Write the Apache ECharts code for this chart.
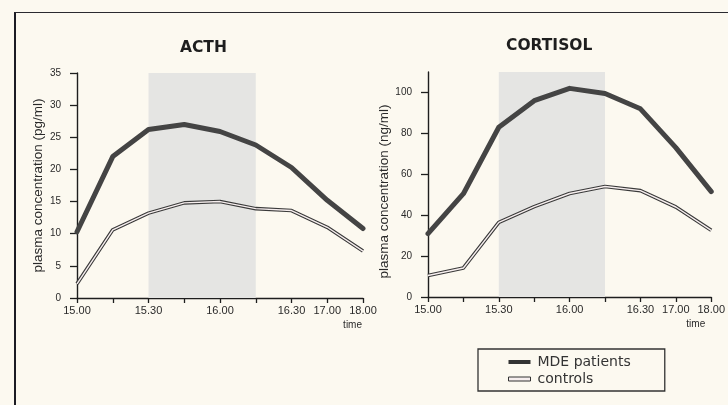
<!DOCTYPE html>
<html>
<head>
<meta charset="utf-8">
<script src="https://cdn.jsdelivr.net/npm/echarts@6/dist/echarts.min.js"></script>
<style>
  html, body { margin:0; padding:0; background:#fcf9f0; }
  #wrap { position:relative; width:728px; height:405px; overflow:hidden; }
  #chart { position:absolute; left:0; top:0; width:728px; height:405px; }
  #frame { position:absolute; left:14px; top:12px; width:720px; height:400px;
           border-left:2px solid #1c1c24; border-top:1.5px solid #2a2a30; pointer-events:none; }
</style>
</head>
<body>
<div id="wrap"><div id="chart"></div><div id="frame"></div></div>
<script>
// ---- data ----
const categories = ['15.00','15.15','15.30','15.45','16.00','16.15','16.30','17.00','18.00'];
const shownLabels = ['15.00','15.30','16.00','16.30','17.00','18.00'];
const shadeRange = ['15.30','16.15'];
const acthMDE = [10.3, 22.0, 26.2, 27.0, 25.9, 23.8, 20.3, 15.2, 10.8];
const acthControls = [2.2, 10.6, 13.2, 14.8, 15.0, 13.9, 13.6, 11.0, 7.3];
const cortisolMDE = [31, 50.5, 83, 96, 102, 99.5, 92, 73, 51.5];
const cortisolControls = [10.5, 14.2, 36.5, 44.2, 50.6, 54, 52, 44, 32.6];
const titles = ['ACTH', 'CORTISOL'];
const yNames = ['plasma concentration (pg/ml)', 'plasma concentration (ng/ml)'];
const seriesNames = ['MDE patients', 'controls'];

const ink = '#2a2a2a';
const axisCommon = {
  axisLine: { show: true, lineStyle: { color: '#1e1e1e', width: 1.4 } },
  splitLine: { show: false }
};

function xAxisFor(gridIndex, rightPad) {
  return Object.assign({}, axisCommon, {
    type: 'category', gridIndex, data: categories, boundaryGap: false,
    axisTick: { show: true, interval: 0, length: 5, lineStyle: { color: '#1e1e1e', width: 1.3 } },
    axisLabel: {
      interval: (i, v) => shownLabels.indexOf(v) >= 0,
      color: ink, fontFamily: 'Liberation Sans', fontSize: 11, margin: 7
    },
    name: 'time', nameLocation: 'end', nameGap: 0,
    nameTextStyle: { color: ink, fontFamily: 'Liberation Sans', fontSize: 10,
      align: 'right', verticalAlign: 'top', padding: [22, rightPad, 0, 0] }
  });
}
function yAxisFor(gridIndex, max, interval, name, gap, namePad) {
  return Object.assign({}, axisCommon, {
    type: 'value', gridIndex, min: 0, max, interval,
    axisTick: { show: true, length: 7, lineStyle: { color: '#1e1e1e', width: 1.3 } },
    axisLabel: { color: ink, fontFamily: 'Liberation Sans', fontSize: 10, margin: 16, showMaxLabel: max % interval === 0 },
    name, nameLocation: 'middle', nameGap: gap,
    nameTextStyle: { color: ink, fontFamily: 'Liberation Sans', fontSize: 13.5, padding: namePad }
  });
}

function mdeSeries(idx, data, withShade) {
  const s = {
    name: seriesNames[0], type: 'line', xAxisIndex: idx, yAxisIndex: idx, data,
    symbol: 'none', z: 5,
    lineStyle: { color: '#444', width: 5, join: 'round', cap: 'round' }
  };
  if (withShade) {
    s.markArea = { silent: true, itemStyle: { color: '#e5e5e3' },
      data: [[{ xAxis: shadeRange[0] }, { xAxis: shadeRange[1] }]] };
  }
  return s;
}
function ctrlOuter(idx, data) {
  return { name: seriesNames[1], type: 'line', xAxisIndex: idx, yAxisIndex: idx, data,
    symbol: 'none', z: 3, lineStyle: { color: '#3a3a3a', width: 3.6, join: 'round' } };
}
function ctrlInner(idx, data) {
  return { name: seriesNames[1], type: 'line', xAxisIndex: idx, yAxisIndex: idx, data,
    symbol: 'none', z: 4, lineStyle: { color: '#f6eeee', width: 1.4, join: 'round' } };
}

const chart = echarts.init(document.getElementById('chart'), null, { renderer: 'canvas' });
chart.setOption({
  backgroundColor: 'transparent',
  animation: false,
  title: [
    { text: titles[0], left: 180, top: 40, padding: 0,
      textStyle: { fontFamily: 'DejaVu Sans', fontWeight: 'bold', fontSize: 15.5, color: '#1e1e1e' } },
    { text: titles[1], left: 506, top: 38, padding: 0,
      textStyle: { fontFamily: 'DejaVu Sans', fontWeight: 'bold', fontSize: 15.5, color: '#1e1e1e' } }
  ],
  grid: [
    { left: 77, right: 365, top: 73, bottom: 107 },
    { left: 428, right: 11, top: 72, bottom: 108 }
  ],
  xAxis: [ xAxisFor(0, 1), xAxisFor(1, 6) ],
  yAxis: [
    yAxisFor(0, 35, 5, yNames[0], 32, [0, 0, 0, 0]),
    yAxisFor(1, 110, 20, yNames[1], 35, [0, 14, 0, 0])
  ],
  legend: {
    orient: 'vertical', left: 478, top: 349,
    padding: [6, 34, 5, 30], itemGap: 3, itemWidth: 22, itemHeight: 4,
    borderColor: '#333', borderWidth: 1.3,
    textStyle: { fontFamily: 'DejaVu Sans', fontSize: 14, color: '#333', padding: [0, 0, 0, 2] },
    data: [
      { name: seriesNames[0], icon: 'rect', itemStyle: { color: '#333', borderWidth: 0 } },
      { name: seriesNames[1], icon: 'rect', itemStyle: { color: '#f6eeee', borderColor: '#333', borderWidth: 1 } }
    ]
  },
  series: [
    mdeSeries(0, acthMDE, true),
    ctrlOuter(0, acthControls),
    ctrlInner(0, acthControls),
    mdeSeries(1, cortisolMDE, true),
    ctrlOuter(1, cortisolControls),
    ctrlInner(1, cortisolControls)
  ]
});
</script>
</body>
</html>
